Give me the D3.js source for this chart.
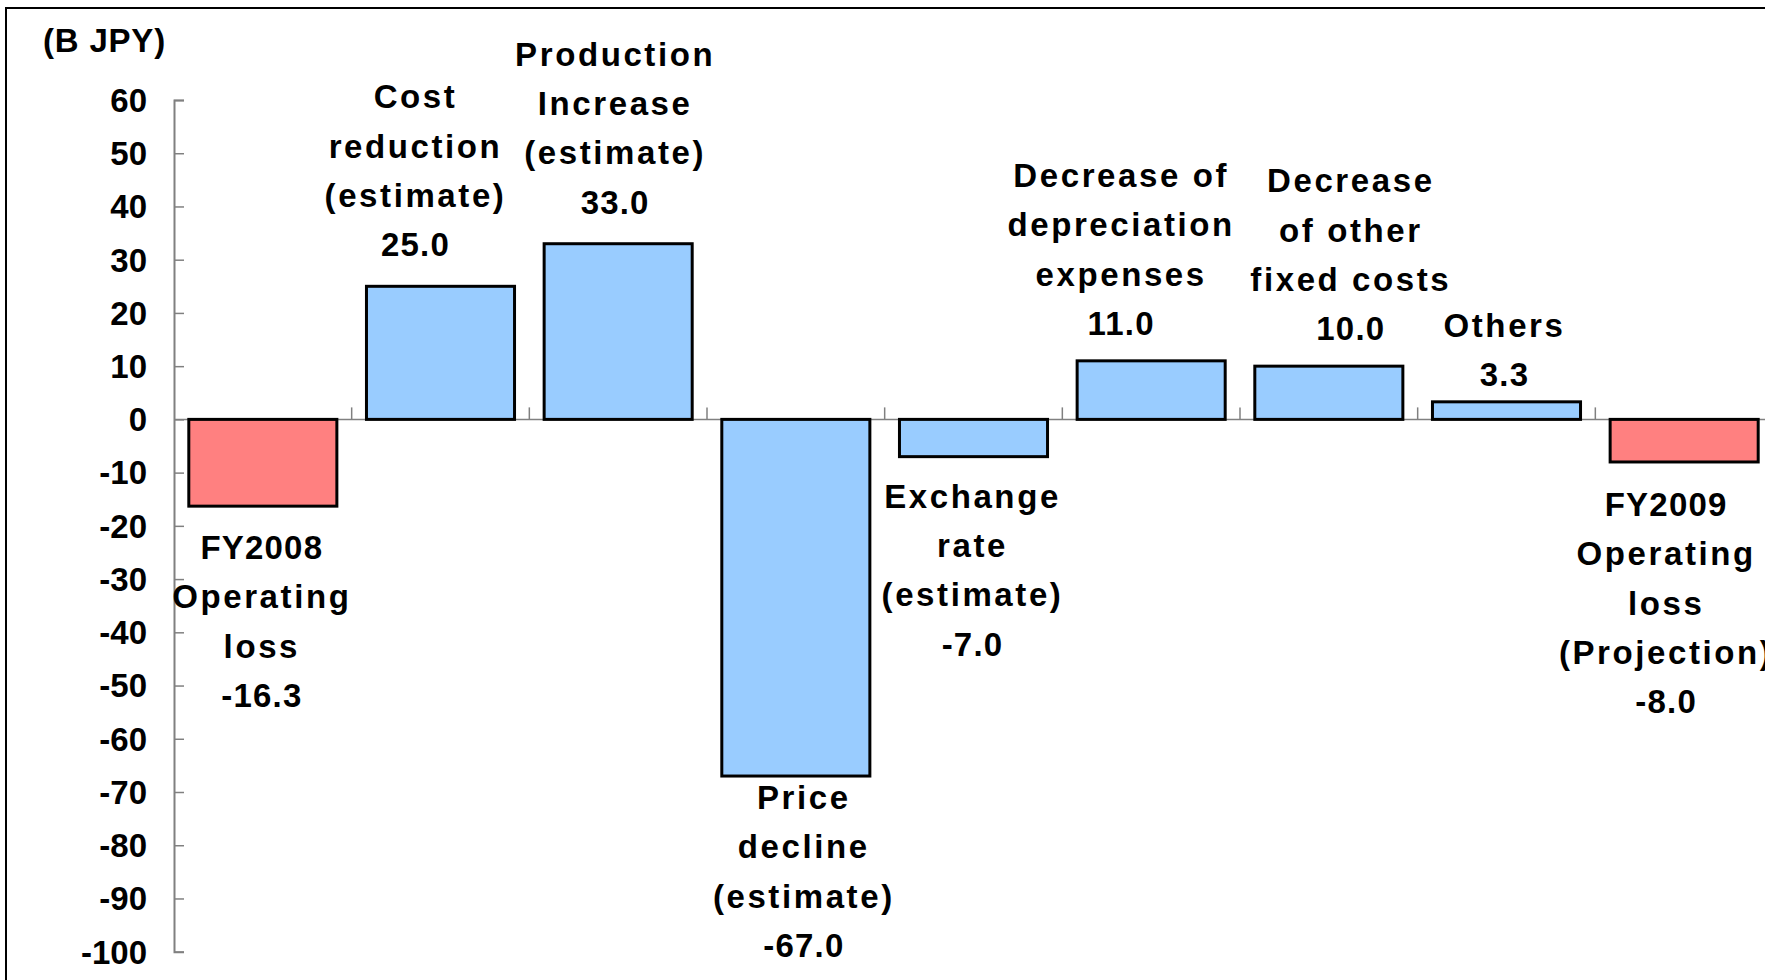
<!DOCTYPE html>
<html>
<head>
<meta charset="utf-8">
<script src="https://cdn.jsdelivr.net/npm/d3@7"></script>
<style>
  html, body { margin: 0; padding: 0; background: #fff; overflow: hidden; }
  svg { display: block; }
  text { font-family: "Liberation Sans", Arial, sans-serif; font-weight: bold; fill: #000; }
</style>
</head>
<body>
<svg id="chart" width="1765" height="980"></svg>
<script>
// ---- data ----
const categories = [
  ["FY2008", "Operating", "loss"],
  ["Cost", "reduction", "(estimate)"],
  ["Production", "Increase", "(estimate)"],
  ["Price", "decline", "(estimate)"],
  ["Exchange", "rate", "(estimate)"],
  ["Decrease of", "depreciation", "expenses"],
  ["Decrease", "of other", "fixed costs"],
  ["Others"],
  ["FY2009", "Operating", "loss", "(Projection)"]
];
const values = [-16.3, 25.0, 33.0, -67.0, -7.0, 11.0, 10.0, 3.3, -8.0];
const barKinds = ["total", "delta", "delta", "delta", "delta", "delta", "delta", "delta", "total"];
const yTicks = [60, 50, 40, 30, 20, 10, 0, -10, -20, -30, -40, -50, -60, -70, -80, -90, -100];
const unitLabel = "(B JPY)";

// ---- layout (label placement tweaks, separate from data) ----
const labelDx  = [-1, -25, -3, 8, -1, -30, 22, -2, -18];
const labelGap = [53, 30, 30, 33, 51, 26, 26, 16, 54];

const colors = { total: "#FF8080", delta: "#99CCFF" };
const lineH = 49.3;
const fmt = v => d3.format(".1f")(v).replace("\u2212", "-");

const svg = d3.select("#chart");

// frame
svg.append("rect")
  .attr("x", 6).attr("y", 8).attr("width", 1800).attr("height", 1000)
  .attr("fill", "none").attr("stroke", "#000").attr("stroke-width", 2);

const x = d3.scaleBand()
  .domain(d3.range(categories.length))
  .range([174, 1773])
  .paddingInner(1/6).paddingOuter(1/12);

const y = d3.scaleLinear().domain([-100, 60]).range([951.7, 100]);

// y axis
const yAxis = d3.axisRight(y).tickValues(yTicks).tickSize(10).tickFormat("");
const gy = svg.append("g").attr("transform", "translate(174,0)").call(yAxis);
gy.select(".domain").attr("stroke", "#808080").attr("stroke-width", 2);
gy.selectAll(".tick line").attr("stroke", "#808080").attr("stroke-width", 1.5);

svg.append("g").selectAll("text").data(yTicks).join("text")
  .attr("x", 147).attr("y", d => y(d))
  .attr("dy", "0.36em")
  .attr("text-anchor", "end")
  .style("font-size", "33px")
  .text(d => String(d));

// category axis at zero
const step = x.step();
const bounds = d3.range(categories.length + 1).map(i => x.range()[0] + i * step);
svg.append("line")
  .attr("x1", 174).attr("x2", 1773).attr("y1", y(0)).attr("y2", y(0))
  .attr("stroke", "#808080").attr("stroke-width", 1.5);
svg.append("g").selectAll("line").data(bounds.slice(1)).join("line")
  .attr("x1", d => d).attr("x2", d => d)
  .attr("y1", y(0)).attr("y2", y(0) - 12)
  .attr("stroke", "#808080").attr("stroke-width", 1.5);

// bars
svg.append("g").selectAll("rect").data(values).join("rect")
  .attr("x", (d, i) => x(i))
  .attr("width", x.bandwidth())
  .attr("y", d => y(Math.max(0, d)))
  .attr("height", d => Math.abs(y(d) - y(0)))
  .attr("fill", (d, i) => colors[barKinds[i]])
  .attr("stroke", "#000").attr("stroke-width", 3);

// labels
values.forEach((v, i) => {
  const lines = categories[i].concat([fmt(v)]);
  const cx = x(i) + x.bandwidth() / 2 + labelDx[i];
  let firstBaseline;
  if (v >= 0) {
    const lastBaseline = y(v) - labelGap[i];
    firstBaseline = lastBaseline - (lines.length - 1) * lineH;
  } else {
    firstBaseline = y(v) + labelGap[i];
  }
  const t = svg.append("text")
    .attr("text-anchor", "middle")
    .style("font-size", "33px");
  lines.forEach((ln, k) => {
    t.append("tspan")
      .attr("x", cx)
      .attr("y", firstBaseline + k * lineH)
      .style("letter-spacing", /\d/.test(ln) ? "1.2px" : "2.6px")
      .text(ln);
  });
});

// unit label
svg.append("text")
  .attr("x", 43).attr("y", 52)
  .style("font-size", "33px")
  .style("letter-spacing", "0.8px")
  .text(unitLabel);
</script>
</body>
</html>
